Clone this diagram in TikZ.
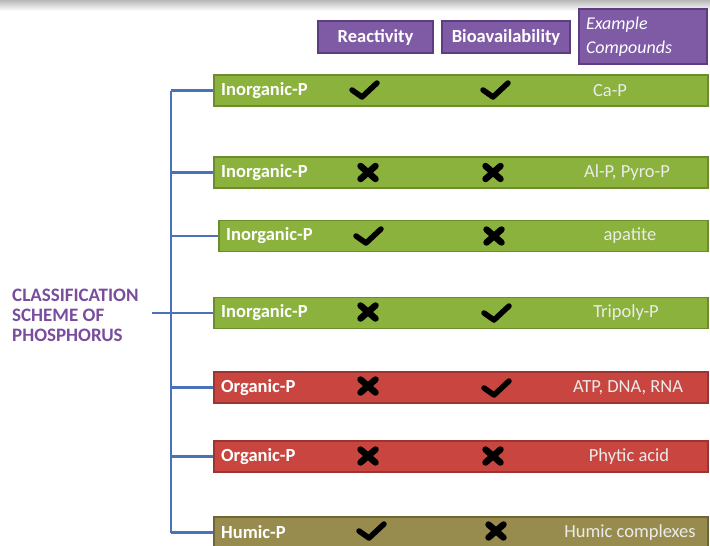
\documentclass[tikz,border=0pt]{standalone}
\usepackage{fontspec}
\setmainfont{Carlito}
\definecolor{gfill}{HTML}{8BB23D}
\definecolor{gline}{HTML}{6C8C2E}
\definecolor{rfill}{HTML}{C8463F}
\definecolor{rline}{HTML}{9C3430}
\definecolor{hfill}{HTML}{978C4E}
\definecolor{hline}{HTML}{6E6636}
\definecolor{pfill}{HTML}{7F5AA5}
\definecolor{pline}{HTML}{5C3D80}
\definecolor{conncol}{HTML}{4A72B8}
\definecolor{titlecol}{HTML}{7A4C9E}
\begin{document}
\begin{tikzpicture}[x=1pt,y=-1pt,
  bar/.style={rectangle, draw, line width=1.5pt, minimum height=31pt, inner sep=0pt, anchor=west},
  gbar/.style={bar, fill=gfill, draw=gline},
  rbar/.style={bar, fill=rfill, draw=rline},
  hbar/.style={bar, fill=hfill, draw=hline},
  hdr/.style={rectangle, fill=pfill, draw=pline, line width=1.2pt, text=white, inner sep=0pt,
    font=\fontsize{18.5}{20}\selectfont\bfseries},
  lbl/.style={anchor=west, text=white, inner sep=0pt, font=\fontsize{18.5}{20}\selectfont\bfseries},
  cmp/.style={text=white!92!black, inner sep=0pt, font=\fontsize{18.5}{20}\selectfont},
  conn/.style={draw=conncol, line width=2.6pt},
  tick/.pic={\draw[line width=5.5pt, line cap=round, line join=round] (-10,-7) -- (0,0) -- (15,-14);},
  xmark/.pic={\draw[line width=6.5pt, line cap=round] (-7.5,-6.5) -- (7.5,6.5) (-7.5,6.5) -- (7.5,-6.5);}
]
\useasboundingbox (0,0) rectangle (710,546);
\shade[top color=black!28, bottom color=white] (0,0) rectangle (710,11);

% header
\node[hdr, minimum width=115pt, minimum height=32pt] (h1) at (375.5,37) {Reactivity};
\node[hdr, minimum width=128pt, minimum height=32pt] (h2) at (506,37) {Bioavailability};
\node[hdr, minimum width=128pt, minimum height=55pt, text width=114pt, align=left,
  font=\fontsize{18}{24.5}\selectfont\itshape] (h3) at (643,36.5) {Example\\Compounds};

% bars
\node[gbar, minimum width=494pt] (b1) at (213,90.5) {};
\node[gbar, minimum width=494pt] (b2) at (213,172.5) {};
\node[gbar, minimum width=489pt] (b3) at (218,236) {};
\node[gbar, minimum width=494pt] (b4) at (213,313) {};
\node[rbar, minimum width=494pt] (b5) at (213,387.5) {};
\node[rbar, minimum width=494pt] (b6) at (213,456.5) {};
\node[hbar, minimum width=494pt] (b7) at (213,532.5) {};

% labels
\node[lbl] (l1) at ([xshift=8pt]b1.west) {Inorganic-P};
\node[lbl] (l2) at ([xshift=8pt]b2.west) {Inorganic-P};
\node[lbl] (l3) at ([xshift=8pt]b3.west) {Inorganic-P};
\node[lbl] (l4) at ([xshift=8pt]b4.west) {Inorganic-P};
\node[lbl] (l5) at ([xshift=8pt]b5.west) {Organic-P};
\node[lbl] (l6) at ([xshift=8pt]b6.west) {Organic-P};
\node[lbl] (l7) at ([xshift=8pt]b7.west) {Humic-P};

% compounds
\node[cmp] (c1) at (610,90.5) {Ca-P};
\node[cmp] (c2) at (627,172.5) {Al-P, Pyro-P};
\node[cmp] (c3) at (630,236) {apatite};
\node[cmp] (c4) at (626,313) {Tripoly-P};
\node[cmp] (c5) at (628,387.5) {ATP, DNA, RNA};
\node[cmp] (c6) at (629,456.5) {Phytic acid};
\node[cmp] (c7) at (630,532.5) {Humic complexes};

% marks
\pic at (362,97) {tick};   \pic at (493,97) {tick};
\pic at (368,172.5) {xmark}; \pic at (493,172.5) {xmark};
\pic at (366,243) {tick};  \pic at (494,236) {xmark};
\pic at (368,312) {xmark}; \pic at (494,320) {tick};
\pic at (368,386) {xmark}; \pic at (494,395) {tick};
\pic at (368,456) {xmark}; \pic at (493,456) {xmark};
\pic at (369,538) {tick};  \pic at (496,531) {xmark};

% title and connectors
\node[anchor=west, align=left, text=titlecol, inner sep=0pt,
  font=\fontsize{19}{20}\selectfont\bfseries] (title) at (12,315) {CLASSIFICATION\\SCHEME OF\\PHOSPHORUS};
\coordinate (hub) at (171,313);
\coordinate (tstub) at (152,313);
\draw[conn] (tstub) -- (hub);
\draw[conn, line join=round] (hub |- b1.west) -- (hub |- b7.west);
\foreach \b in {b1,b2,b3,b4,b5,b6,b7} \draw[conn] (hub |- \b.west) -- (\b.west);
\end{tikzpicture}
\end{document}
